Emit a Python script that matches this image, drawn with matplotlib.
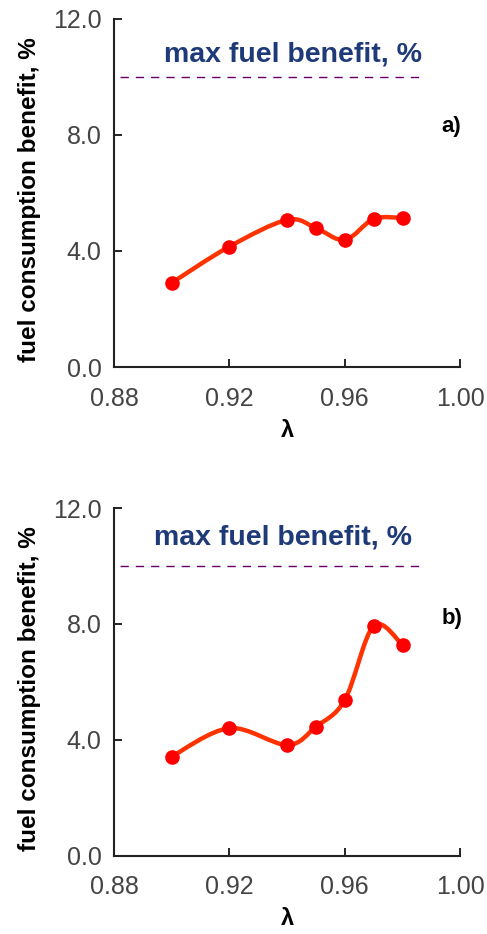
import numpy as np
import matplotlib.pyplot as plt
from matplotlib.path import Path
from matplotlib.patches import PathPatch

plt.rcParams['font.family'] = ['Liberation Sans', 'DejaVu Sans']

lam = [0.90, 0.92, 0.94, 0.95, 0.96, 0.97, 0.98]
benefit_a = [2.9, 4.15, 5.07, 4.79, 4.38, 5.10, 5.14]
benefit_b = [3.42, 4.40, 3.82, 4.45, 5.37, 7.93, 7.27]
max_benefit = 10.0
panel_labels = ['a)', 'b)']

line_col = '#ff3300'
dot_col = '#ff0000'
text_col = '#1f3a78'


def smooth_path(x, y):
    # Catmull-Rom style bezier through the points (Excel "smoothed line")
    pts = np.column_stack([x, y])
    verts = [pts[0]]
    codes = [Path.MOVETO]
    n = len(pts)
    for i in range(n - 1):
        p0 = pts[i - 1] if i > 0 else pts[i]
        p1 = pts[i]
        p2 = pts[i + 1]
        p3 = pts[i + 2] if i + 2 < n else pts[i + 1]
        c1 = p1 + (p2 - p0) / 6.0
        c2 = p2 - (p3 - p1) / 6.0
        verts += [c1, c2, p2]
        codes += [Path.CURVE4] * 3
    return Path(verts, codes)


fig = plt.figure(figsize=(4.87, 9.34), dpi=100)
ax1 = fig.add_axes([0.234, 0.607, 0.711, 0.373])
ax2 = fig.add_axes([0.234, 0.084, 0.711, 0.372])

# (axes, values, panel label, title x, title y, label y)
panels = [(ax1, benefit_a, panel_labels[0], 0.942, 10.75, 8.3),
          (ax2, benefit_b, panel_labels[1], 0.9385, 11.0, 8.2)]

for ax, vals, lab, tx, ty, ly in panels:
    ax.add_patch(PathPatch(smooth_path(lam, vals), facecolor='none',
                           edgecolor=line_col, lw=3.2, zorder=3,
                           capstyle='round', joinstyle='round'))
    ax.plot(lam, vals, 'o', color=dot_col, ms=9.5, zorder=4)
    ax.plot([0.882, 0.986], [max_benefit, max_benefit], color='#660066',
            lw=1.0, dashes=(6, 5))
    ax.text(tx, ty, 'max fuel benefit, %', color=text_col,
            fontsize=20.5, fontweight='bold', ha='center', va='center')
    ax.text(0.997, ly, lab, fontsize=16, fontweight='bold',
            ha='center', va='center')

    ax.set_xlim(0.88, 1.00)
    ax.set_ylim(0, 12)
    ax.set_xticks([0.88, 0.92, 0.96, 1.00])
    ax.set_xticklabels(['0.88', '0.92', '0.96', '1.00'])
    ax.set_yticks([0, 4, 8, 12])
    ax.set_yticklabels(['0.0', '4.0', '8.0', '12.0'])
    ax.tick_params(direction='in', length=6, width=1.2, labelsize=18,
                   labelcolor='#444444')
    ax.tick_params(axis='y', pad=9)
    ax.tick_params(axis='x', pad=14)
    for s in ['top', 'right']:
        ax.spines[s].set_visible(False)
    for s in ['left', 'bottom']:
        ax.spines[s].set_linewidth(1.5)
        ax.spines[s].set_color('#222222')
    ax.set_xlabel('λ', fontsize=17, fontweight='bold', labelpad=6)
    ax.set_ylabel('fuel consumption benefit, %', fontsize=17.5,
                  fontweight='bold')
    ax.yaxis.set_label_coords(-0.21, 0.48)

fig.savefig('out.png', dpi=100)
